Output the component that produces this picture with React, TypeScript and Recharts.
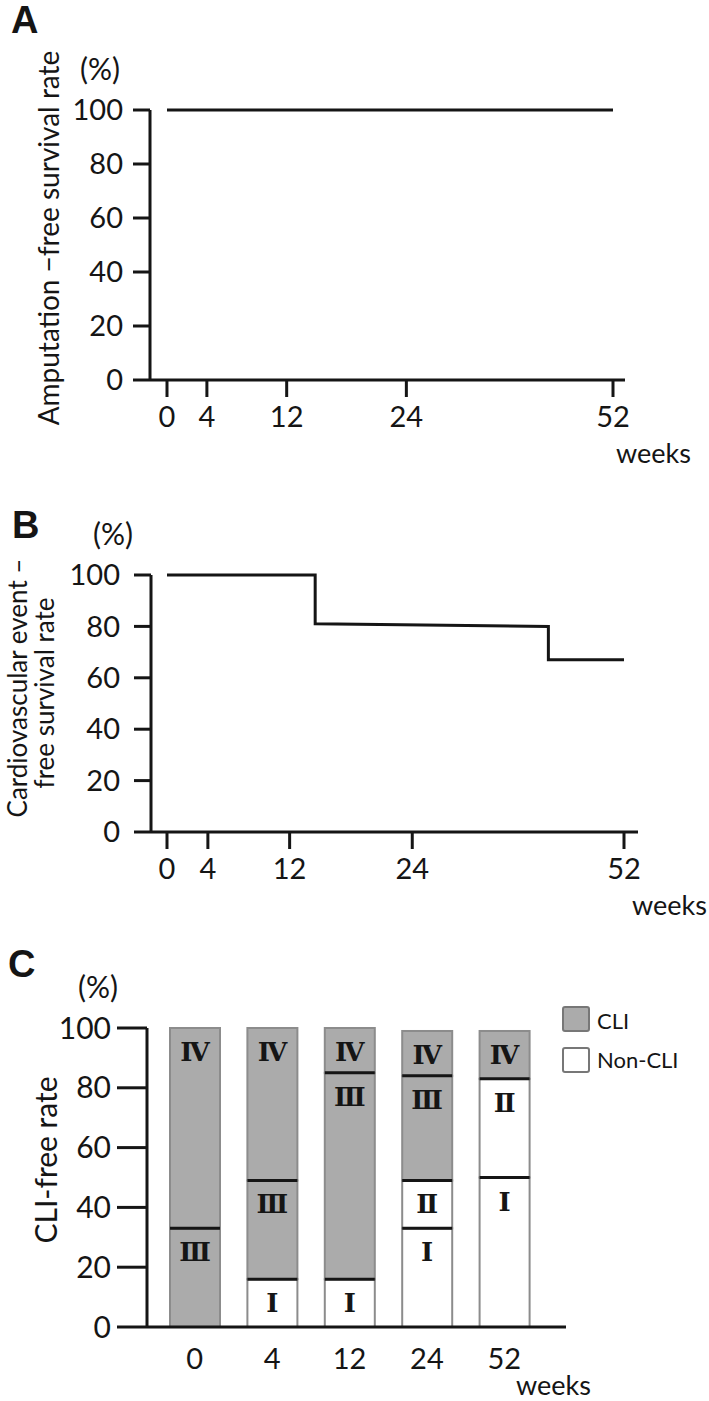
import React from 'react'
import { LineChart, Line, XAxis, YAxis, BarChart, Bar } from 'recharts'

const weekTicks = [0, 4, 12, 24, 52]
const pctTicks = [0, 20, 40, 60, 80, 100]

// A: amputation-free survival
const amputationWeeks = [0, 52]
const amputationRate = [100, 100]

// B: cardiovascular event-free survival (step curve)
const cvWeeks = [0, 14.5, 14.5, 42, 42, 52]
const cvRate = [100, 100, 81, 80, 67, 67]

// C: stage distribution per visit
const visitLabels = ['0', '4', '12', '24', '52']
const stageI = [0, 16, 16, 33, 50]
const stageII = [0, 0, 0, 16, 33]
const stageIII = [33, 33, 69, 35, 0]
const stageIV = [67, 51, 15, 15, 16]

const INK = '#151515'
const CLI_GREY = '#ababab'
const FONT = 'Lato, "Open Sans", sans-serif'

// the figure's week axis is even up to 24 and squeezed after that
const COMPRESS = 0.74
const axisPos = (w: number) => (w <= 24 ? w : 24 + (w - 24) * COMPRESS)
const tickLabel = (v: number) => {
  const i = weekTicks.findIndex((w) => Math.abs(axisPos(w) - v) < 0.01)
  return i >= 0 ? String(weekTicks[i]) : ''
}

interface SurvivalProps {
  weeks: number[]
  rate: number[]
  height: number
  margin: { top: number; right: number; bottom: number; left: number }
  yAxisWidth: number
  padding: { left: number; right: number }
  yTickMargin: number
}

function SurvivalChart({ weeks, rate, height, margin, yAxisWidth, padding, yTickMargin }: SurvivalProps) {
  const data = weeks.map((w, i) => ({ x: axisPos(w), rate: rate[i] }))
  return (
    <LineChart width={709} height={height} data={data} margin={margin}>
      <XAxis
        type="number"
        dataKey="x"
        domain={[0, axisPos(52)]}
        ticks={weekTicks.map(axisPos)}
        tickFormatter={tickLabel}
        interval={0}
        padding={padding}
        height={60}
        axisLine={{ stroke: INK, strokeWidth: 3 }}
        tickLine={{ stroke: INK, strokeWidth: 3 }}
        tickSize={17}
        tickMargin={9}
        tick={{ fill: INK, fontSize: 29, fontFamily: FONT }}
      />
      <YAxis
        type="number"
        domain={[0, 100]}
        ticks={pctTicks}
        interval={0}
        width={yAxisWidth}
        axisLine={{ stroke: INK, strokeWidth: 3 }}
        tickLine={{ stroke: INK, strokeWidth: 3 }}
        tickSize={17}
        tickMargin={yTickMargin}
        tick={{ fill: INK, fontSize: 29, fontFamily: FONT }}
      />
      <Line
        type="linear"
        dataKey="rate"
        stroke={INK}
        strokeWidth={3}
        dot={false}
        isAnimationActive={false}
      />
    </LineChart>
  )
}

const stages = [
  { key: 'I', label: 'Ⅰ', fill: '#ffffff' },
  { key: 'II', label: 'Ⅱ', fill: '#ffffff' },
  { key: 'III', label: 'Ⅲ', fill: CLI_GREY },
  { key: 'IV', label: 'Ⅳ', fill: CLI_GREY },
]

const makeSegment = (idx: number) => (props: any) => {
  const { x, y, width, height, payload } = props
  if (!height || height <= 0) return <g />
  const below = stages.slice(0, idx).reduce((s, st) => s + (payload[st.key] || 0), 0)
  return (
    <g>
      <rect x={x} y={y} width={width} height={height} fill={stages[idx].fill} stroke="#8c8c8c" strokeWidth={2} />
      {below > 0 && (
        <line x1={x} x2={x + width} y1={y + height} y2={y + height} stroke={INK} strokeWidth={3} />
      )}
      <text
        x={x + width / 2}
        y={y + 33}
        textAnchor="middle"
        fill={INK}
        fontSize={26}
        fontWeight="bold"
        fontFamily='"DejaVu Serif", "Liberation Serif", serif'
      >
        {stages[idx].label}
      </text>
    </g>
  )
}

function StageChart() {
  const data = visitLabels.map((week, i) => ({
    week,
    I: stageI[i],
    II: stageII[i],
    III: stageIII[i],
    IV: stageIV[i],
  }))
  return (
    <BarChart width={709} height={481} data={data} margin={{ top: 108, right: 143, bottom: 24, left: 0 }} barSize={50}>
      <XAxis
        dataKey="week"
        padding={{ left: 9, right: 23 }}
        height={50}
        axisLine={{ stroke: INK, strokeWidth: 3 }}
        tickLine={false}
        tickSize={0}
        tickMargin={21}
        interval={0}
        tick={{ fill: INK, fontSize: 29, fontFamily: FONT }}
      />
      <YAxis
        type="number"
        domain={[0, 100]}
        ticks={pctTicks}
        interval={0}
        width={147}
        axisLine={{ stroke: INK, strokeWidth: 3 }}
        tickLine={{ stroke: INK, strokeWidth: 3 }}
        tickSize={30}
        tickMargin={6}
        tick={{ fill: INK, fontSize: 30, fontFamily: FONT }}
      />
      {stages.map((st, i) => (
        <Bar key={st.key} dataKey={st.key} stackId="stage" fill={st.fill} shape={makeSegment(i)} isAnimationActive={false} />
      ))}
    </BarChart>
  )
}

const txt = { fill: INK, fontFamily: FONT }

export default function App() {
  return (
    <div style={{ position: 'absolute', left: 0, top: 0, width: 709, height: 1401, background: '#fff' }}>
      <div style={{ position: 'absolute', left: 0, top: 0 }}>
        <SurvivalChart
          weeks={amputationWeeks}
          rate={amputationRate}
          height={460}
          margin={{ top: 110, right: 84, bottom: 20, left: 0 }}
          yAxisWidth={150}
          padding={{ left: 17, right: 12 }}
          yTickMargin={10}
        />
      </div>
      <div style={{ position: 'absolute', left: 0, top: 460 }}>
        <SurvivalChart
          weeks={cvWeeks}
          rate={cvRate}
          height={460}
          margin={{ top: 115, right: 71, bottom: 28, left: 0 }}
          yAxisWidth={151}
          padding={{ left: 16, right: 14 }}
          yTickMargin={14}
        />
      </div>
      <div style={{ position: 'absolute', left: 0, top: 920 }}>
        <StageChart />
      </div>
      <svg width={709} height={1401} style={{ position: 'absolute', left: 0, top: 0, pointerEvents: 'none' }}>
        <g fontFamily='"Liberation Sans", Arial, sans-serif' fontWeight="bold" fontSize={38} fill={INK}>
          <text x={11} y={33}>A</text>
          <text x={12} y={538}>B</text>
          <text x={8} y={977}>C</text>
        </g>
        <g fontSize={30} {...txt}>
          <text x={100} y={80} textAnchor="middle">(%)</text>
          <text x={113} y={545} textAnchor="middle">(%)</text>
          <text x={98} y={998} textAnchor="middle">(%)</text>
        </g>
        <g fontSize={27} {...txt}>
          <text x={616} y={463}>weeks</text>
          <text x={632} y={915}>weeks</text>
          <text x={516} y={1395}>weeks</text>
        </g>
        <text x={59} y={238} textAnchor="middle" transform="rotate(-90 59 238)" fontSize={28} {...txt}>
          Amputation −free survival rate
        </text>
        <g fontSize={26} {...txt}>
          <text x={27} y={688} textAnchor="middle" transform="rotate(-90 27 688)">
            Cardiovascular event –
          </text>
          <text x={54} y={693} textAnchor="middle" transform="rotate(-90 54 693)">
            free survival rate
          </text>
        </g>
        <text x={57} y={1160} textAnchor="middle" transform="rotate(-90 57 1160)" fontSize={30} {...txt}>
          CLI-free rate
        </text>
        <rect x={563} y={1007} width={26} height={24} rx={2} fill={CLI_GREY} stroke="#777" strokeWidth={2} />
        <rect x={563} y={1048} width={26} height={24} rx={2} fill="#fff" stroke="#777" strokeWidth={2} />
        <text x={597} y={1029} fontSize={22} {...txt}>CLI</text>
        <text x={597} y={1068} fontSize={22} {...txt}>Non-CLI</text>
      </svg>
    </div>
  )
}
